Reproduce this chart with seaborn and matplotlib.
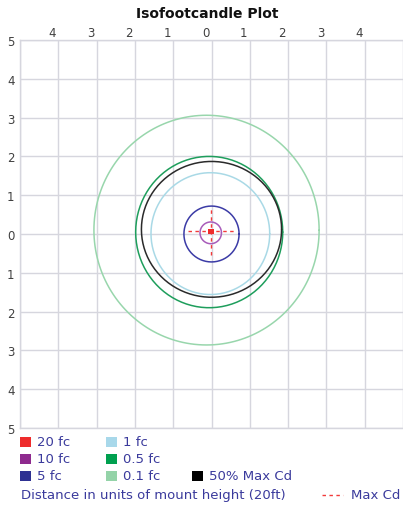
import numpy as np
import pandas as pd
import matplotlib
matplotlib.use('Agg')
import matplotlib.pyplot as plt
import matplotlib.transforms as mtransforms
from matplotlib.patches import Rectangle
from matplotlib.lines import Line2D
import seaborn as sns

# contour levels (units of mount height)
levels = ['0.1 fc', '0.5 fc', '50% Max Cd', '1 fc', '5 fc', '10 fc']
center_x = [-0.13, -0.06, 0.00, -0.03, 0.00, -0.02]
center_y = [0.10, 0.05, 0.12, 0.01, 0.00, 0.03]
radius_x = [2.94, 1.92, 1.83, 1.55, 0.72, 0.28]
radius_y = [2.96, 1.95, 1.75, 1.57, 0.72, 0.28]
line_colors = ['#98d6ac', '#1e9e5c', '#2a2a2a', '#a9d9e6', '#3b3ba6', '#a85cba']

# 20 fc spot and max candela crosshair
spot_x = [-0.02]
spot_y = [0.07]
maxcd_x = -0.02
maxcd_y = 0.07
maxcd_half = 0.6

# legend entries
legend_labels = ['20 fc', '10 fc', '5 fc', '1 fc', '0.5 fc', '0.1 fc', '50% Max Cd']
legend_colors = ['#ee2c2c', '#8e2a8e', '#2e3192', '#a8d8ea', '#00a04f', '#94d3a8', '#000000']

tick_values = list(range(-5, 6))

sns.set_style('white')
plt.rcParams['font.family'] = ['DejaVu Sans']

fig = plt.figure(figsize=(4.03, 5.06), dpi=100)
ax = fig.add_axes([20 / 403, 77 / 506, 383 / 403, 388 / 506])

# build closed contour outlines
theta = np.linspace(0, 2 * np.pi, 181)
frames = []
for lvl, cx, cy, rx, ry in zip(levels, center_x, center_y, radius_x, radius_y):
    frames.append(pd.DataFrame({'x': cx + rx * np.cos(theta), 'y': cy + ry * np.sin(theta),
                                'level': lvl}))
contours = pd.concat(frames, ignore_index=True)

sns.lineplot(data=contours, x='x', y='y', hue='level', hue_order=levels,
             palette=dict(zip(levels, line_colors)), sort=False, estimator=None,
             linewidth=1.1, legend=False, ax=ax)

sns.scatterplot(x=spot_x, y=spot_y, marker='s', s=16, color='#ee2c2c',
                edgecolor='none', ax=ax, zorder=5)

dash = (0, (2.5, 2.5))
cross_color = '#f23a3a'
ax.plot([maxcd_x - maxcd_half, maxcd_x + maxcd_half], [maxcd_y, maxcd_y],
        color=cross_color, lw=1.0, linestyle=dash, zorder=4)
ax.plot([maxcd_x, maxcd_x], [maxcd_y - maxcd_half, maxcd_y + maxcd_half],
        color=cross_color, lw=1.0, linestyle=dash, zorder=4)

ax.set_xlim(-5, 383 / 38.8 - 5)
ax.set_ylim(-5, 5)
ax.set_xlabel('')
ax.set_ylabel('')

grid_color = '#d6d6de'
ax.set_xticks(tick_values)
ax.set_xticklabels(['' if abs(v) == 5 else str(abs(v)) for v in tick_values])
ax.set_yticks(tick_values)
ax.set_yticklabels([str(abs(v)) for v in tick_values])
ax.xaxis.tick_top()
ax.tick_params(length=0, labelsize=8.5, labelcolor='#404040', pad=1)
ax.tick_params(axis='y', pad=4)
ax.grid(True, color=grid_color, lw=1)
ax.set_axisbelow(True)
for side in ['top', 'bottom', 'left']:
    ax.spines[side].set_color(grid_color)
    ax.spines[side].set_linewidth(1)
ax.spines['right'].set_visible(False)

shift = mtransforms.ScaledTranslation(-6 / 100, 0, fig.dpi_scale_trans)
for lab in ax.get_xticklabels():
    lab.set_transform(lab.get_transform() + shift)

fig.text(207 / 403, 1 - 14 / 506, 'Isofootcandle Plot', ha='center', va='center',
         fontsize=10, fontweight='bold', color='#111111')

# legend drawn below the plot
text_color = '#3a3a9c'
col_x = [20, 106, 192]
row_y = [443, 460, 477]
slots = [(0, 0), (0, 1), (0, 2), (1, 0), (1, 1), (1, 2), (2, 2)]
for (c, r), lab, col in zip(slots, legend_labels, legend_colors):
    x0 = col_x[c]
    y0 = row_y[r]
    fig.add_artist(Rectangle((x0 / 403, 1 - (y0 + 5) / 506), 11 / 403, 10 / 506,
                             transform=fig.transFigure, facecolor=col, edgecolor='none'))
    fig.text((x0 + 17) / 403, 1 - y0 / 506, lab, ha='left', va='center',
             fontsize=9.5, color=text_color)

fig.text(21 / 403, 1 - 496 / 506, 'Distance in units of mount height (20ft)',
         ha='left', va='center', fontsize=9.5, color=text_color)
fig.add_artist(Line2D([322 / 403, 343 / 403], [1 - 496 / 506, 1 - 496 / 506],
                      transform=fig.transFigure, color=cross_color, lw=1.0, linestyle=dash))
fig.text(351 / 403, 1 - 496 / 506, 'Max Cd', ha='left', va='center',
         fontsize=9.5, color=text_color)

fig.savefig('out.png', dpi=100)
